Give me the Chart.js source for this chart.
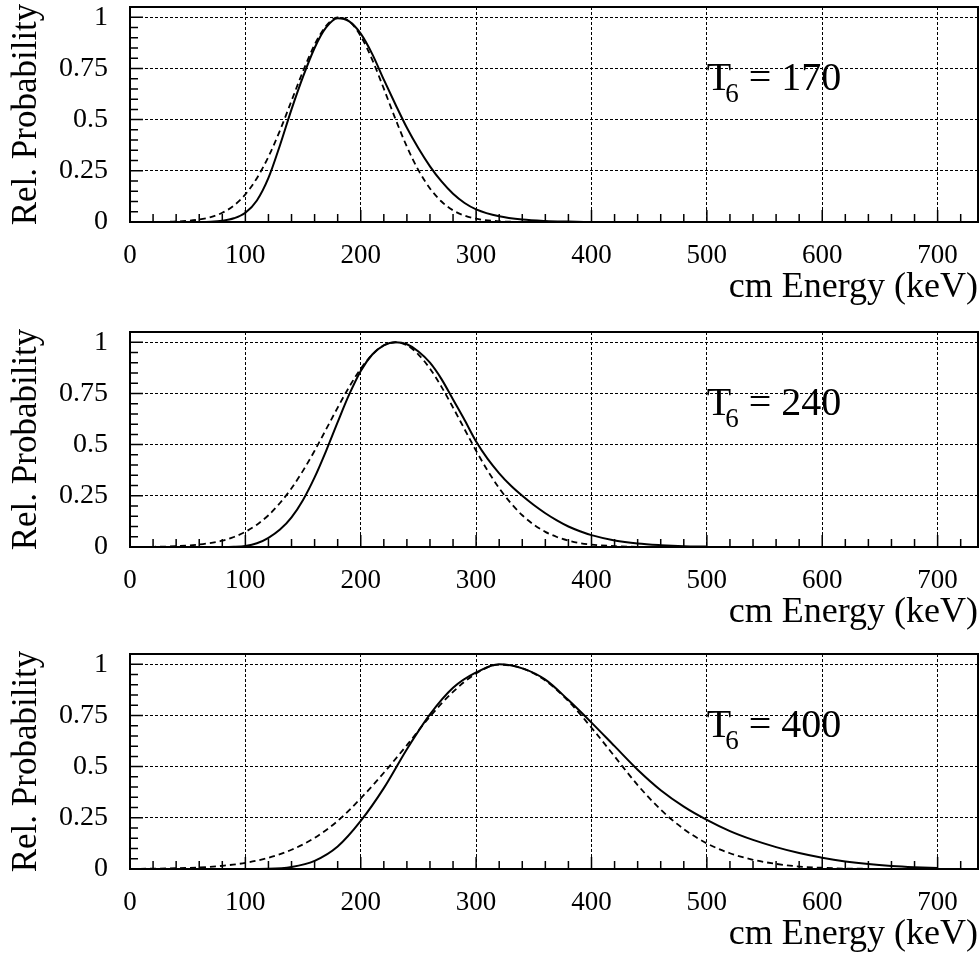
<!DOCTYPE html>
<html>
<head>
<meta charset="utf-8">
<script src="https://cdn.jsdelivr.net/npm/chart.js@4.4.0/dist/chart.umd.min.js"></script>
<style>
  body { margin: 0; background: #fff; width: 980px; height: 957px; overflow: hidden; position: relative; }
  canvas { position: absolute; left: 0; }
</style>
</head>
<body>
<canvas id="p170" width="980" height="311" style="top:0"></canvas>
<canvas id="p240" width="980" height="311" style="top:325px"></canvas>
<canvas id="p400" width="980" height="311" style="top:647px"></canvas>
<script>
// tick labels
const xTicks = [0, 100, 200, 300, 400, 500, 600, 700];
const yTicks = [0, 0.25, 0.5, 0.75, 1];

// T6 = 170
const e170 = [0, 20, 40, 60, 70, 80, 90, 100, 110, 120, 130, 140, 150, 160, 170, 180, 190, 200, 210, 220, 230, 240, 250, 260, 270, 280, 290, 300, 320, 340, 360, 380, 400];
const solid170 = [0, 0, 0, 0, 0.001, 0.006, 0.018, 0.045, 0.105, 0.215, 0.375, 0.55, 0.71, 0.85, 0.95, 0.995, 0.98, 0.92, 0.82, 0.695, 0.575, 0.46, 0.36, 0.272, 0.198, 0.138, 0.093, 0.062, 0.028, 0.012, 0.005, 0.002, 0];
const gauss170 = [0, 0.0004, 0.0025, 0.012, 0.024, 0.045, 0.08, 0.135, 0.214, 0.319, 0.447, 0.592, 0.737, 0.866, 0.958, 0.999, 0.981, 0.908, 0.792, 0.651, 0.504, 0.368, 0.253, 0.164, 0.1, 0.057, 0.031, 0.016, 0.0035, 0.0006, 0, 0, 0];

// T6 = 240
const e240 = [0, 20, 40, 60, 80, 90, 100, 110, 120, 130, 140, 150, 160, 170, 180, 190, 200, 210, 220, 230, 240, 250, 260, 270, 280, 290, 300, 310, 320, 330, 340, 350, 360, 370, 380, 390, 400, 420, 440, 460, 480, 500];
const solid240 = [0, 0, 0, 0, 0, 0.001, 0.005, 0.018, 0.045, 0.085, 0.145, 0.23, 0.34, 0.47, 0.61, 0.745, 0.86, 0.94, 0.985, 1.0, 0.99, 0.955, 0.9, 0.82, 0.72, 0.62, 0.515, 0.43, 0.36, 0.3, 0.25, 0.205, 0.165, 0.13, 0.1, 0.077, 0.058, 0.032, 0.017, 0.009, 0.004, 0.002];
const gauss240 = [0.0003, 0.001, 0.004, 0.012, 0.031, 0.049, 0.074, 0.109, 0.155, 0.215, 0.287, 0.373, 0.47, 0.575, 0.681, 0.782, 0.871, 0.94, 0.985, 1.0, 0.985, 0.94, 0.871, 0.782, 0.681, 0.575, 0.47, 0.373, 0.287, 0.215, 0.155, 0.109, 0.074, 0.049, 0.031, 0.019, 0.012, 0.004, 0.001, 0.0003, 0, 0];

// T6 = 400
const e400 = [0, 20, 40, 60, 80, 100, 120, 140, 160, 180, 200, 220, 240, 260, 280, 300, 320, 340, 360, 380, 400, 420, 440, 460, 480, 500, 520, 540, 560, 580, 600, 620, 640, 660, 680, 700];
const solid400 = [0, 0, 0, 0, 0, 0, 0.001, 0.01, 0.04, 0.11, 0.235, 0.395, 0.585, 0.755, 0.885, 0.96, 1.0, 0.98, 0.925, 0.825, 0.715, 0.6, 0.485, 0.385, 0.305, 0.24, 0.185, 0.142, 0.107, 0.078, 0.055, 0.037, 0.024, 0.015, 0.009, 0.005];
const gauss400 = [0.0007, 0.0016, 0.0036, 0.0078, 0.0157, 0.03, 0.055, 0.094, 0.152, 0.235, 0.345, 0.47, 0.605, 0.745, 0.865, 0.955, 0.998, 0.98, 0.92, 0.82, 0.69, 0.55, 0.41, 0.29, 0.195, 0.125, 0.077, 0.045, 0.025, 0.012, 0.006, 0.002, 0.001, 0, 0, 0];

const serif = '"Liberation Serif", "Times New Roman", serif';

// frame, inner ticks and the T6 label
const frameAndTicks = {
  id: 'frameAndTicks',
  afterDraw(chart) {
    const { ctx, chartArea: a, scales: { x, y } } = chart;
    ctx.save();
    ctx.strokeStyle = '#000';
    ctx.setLineDash([]);
    ctx.lineWidth = 1.5;
    ctx.beginPath();
    for (let v = 0; v <= x.max; v += 20) {
      const px = x.getPixelForValue(v);
      const len = v % 100 === 0 ? 12 : 8;
      ctx.moveTo(px, a.bottom);
      ctx.lineTo(px, a.bottom - len);
    }
    for (let k = 0; k * 0.05 <= y.max; k++) {
      const py = y.getPixelForValue(k * 0.05);
      const len = k % 5 === 0 ? 13 : 8;
      ctx.moveTo(a.left, py);
      ctx.lineTo(a.left + len, py);
    }
    ctx.stroke();
    ctx.lineWidth = 2;
    ctx.strokeRect(a.left, a.top, a.right - a.left, a.bottom - a.top);

    // T6 label
    const temp = chart.options.plugins.frameAndTicks.temp;
    let px = x.getPixelForValue(500);
    const py = y.getPixelForValue(0.645);
    ctx.fillStyle = '#000';
    ctx.textBaseline = 'alphabetic';
    ctx.textAlign = 'left';
    ctx.font = '40px ' + serif;
    ctx.fillText('T', px, py);
    px += ctx.measureText('T').width - 6;
    ctx.font = '27px ' + serif;
    ctx.fillText('6', px, py + 12);
    px += ctx.measureText('6').width;
    ctx.font = '40px ' + serif;
    ctx.fillText(' = ' + temp, px, py);
    ctx.restore();
  }
};

function makeChart(id, energy, solid, gauss, temp) {
  return new Chart(document.getElementById(id), {
    type: 'line',
    data: {
      datasets: [
        {
          data: energy.map((e, i) => ({ x: e, y: solid[i] })),
          borderColor: '#000',
          borderWidth: 2,
          pointRadius: 0,
          cubicInterpolationMode: 'monotone',
          fill: false
        },
        {
          data: energy.map((e, i) => ({ x: e, y: gauss[i] })),
          borderColor: '#000',
          borderWidth: 1.8,
          borderDash: [6, 4],
          pointRadius: 0,
          cubicInterpolationMode: 'monotone',
          fill: false
        }
      ]
    },
    options: {
      responsive: false,
      animation: false,
      events: [],
      layout: { padding: { top: 7, right: 2, left: 0, bottom: 0 } },
      plugins: {
        legend: { display: false },
        tooltip: { enabled: false },
        frameAndTicks: { temp: temp }
      },
      scales: {
        x: {
          type: 'linear',
          min: 0,
          max: 735,
          afterBuildTicks: s => { s.ticks = xTicks.map(v => ({ value: v })); },
          afterFit: s => { s.height = 89; s.paddingLeft = 0; s.paddingRight = 0; },
          ticks: {
            padding: 18,
            color: '#000',
            maxRotation: 0,
            autoSkip: false,
            font: { family: serif, size: 27 },
            callback: v => String(v)
          },
          grid: { color: '#000', lineWidth: 1, drawTicks: false },
          border: { display: false, dash: [3, 2] },
          title: {
            display: true,
            text: 'cm Energy (keV)',
            align: 'end',
            color: '#000',
            font: { family: serif, size: 36 },
            padding: { top: 0, bottom: 2 }
          }
        },
        y: {
          min: 0,
          max: 1.05,
          afterBuildTicks: s => { s.ticks = yTicks.map(v => ({ value: v })); },
          afterFit: s => { s.width = 130; s.paddingTop = 0; s.paddingBottom = 0; },
          ticks: {
            padding: 22,
            color: '#000',
            font: { family: serif, size: 28 },
            callback: v => String(v)
          },
          grid: { color: '#000', lineWidth: 1, drawTicks: false },
          border: { display: false, dash: [3, 2] },
          title: {
            display: true,
            text: 'Rel. Probability',
            color: '#000',
            font: { family: serif, size: 35 },
            padding: { top: 6, bottom: 0 }
          }
        }
      }
    },
    plugins: [frameAndTicks]
  });
}

makeChart('p170', e170, solid170, gauss170, '170');
makeChart('p240', e240, solid240, gauss240, '240');
makeChart('p400', e400, solid400, gauss400, '400');
</script>
</body>
</html>
